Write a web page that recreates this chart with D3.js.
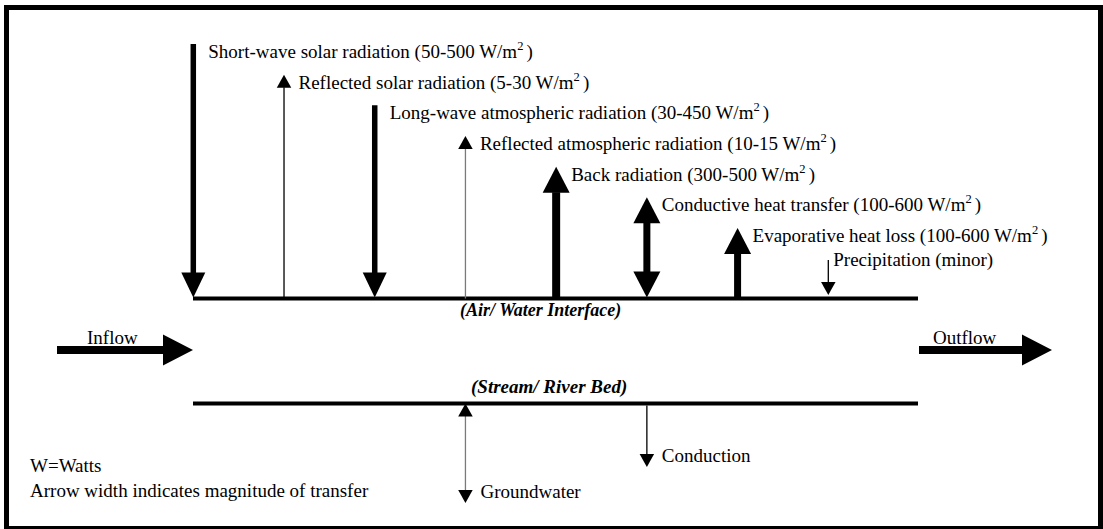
<!DOCTYPE html>
<html>
<head>
<meta charset="utf-8">
<script src="https://cdn.jsdelivr.net/npm/d3@7"></script>
<style>
  body { margin: 0; background: #fff; }
  text { font-family: "Liberation Serif", "Times New Roman", serif; font-size: 19px; fill: #000; }
  .bi { font-weight: bold; font-style: italic; }
</style>
</head>
<body>
<script>
// Heat fluxes across the air/water interface (W/m2)
const fluxes = ['Short-wave solar radiation', 'Reflected solar radiation', 'Long-wave atmospheric radiation',
  'Reflected atmospheric radiation', 'Back radiation', 'Conductive heat transfer', 'Evaporative heat loss', 'Precipitation']
const fluxRanges = ['50-500', '5-30', '30-450', '10-15', '300-500', '100-600', '100-600', null]
const fluxDirections = ['down', 'up', 'down', 'up', 'up', 'both', 'up', 'down']
const fluxMagnitudes = ['medium', 'small', 'medium', 'small', 'large', 'high', 'high', 'small']
const fluxNotes = [null, null, null, null, null, null, null, 'minor']

// Fluxes across the stream bed
const bedFluxes = ['Groundwater', 'Conduction']
const bedDirections = ['both', 'down']
const bedColumns = [3, 5]

const notes = ['W=Watts', 'Arrow width indicates magnitude of transfer']

const W = 1103, H = 529
const svg = d3.select('body').append('svg')
  .attr('width', W).attr('height', H)

// frame
svg.append('rect')
  .attr('x', 6.5).attr('y', 7.5)
  .attr('width', 1094).attr('height', 521)
  .attr('fill', 'none').attr('stroke', '#000').attr('stroke-width', 5)

const surfaceY = 298.5, bedY = 403.5
const x = d3.scalePoint().domain(d3.range(8)).range([193.3, 828.3])
const row = d3.scalePoint().domain(d3.range(8)).range([58, 272.7])

// shaft width / head size by magnitude
const shaftW = d3.scaleOrdinal().domain(['small', 'medium', 'high', 'large']).range([1.3, 5.5, 7, 8])
const headW = d3.scaleOrdinal().domain(['small', 'medium', 'high', 'large']).range([14.5, 24, 27, 27])
const headL = d3.scaleOrdinal().domain(['small', 'medium', 'high', 'large']).range([13, 25, 26, 26])
const shaftColor = d3.scaleOrdinal().domain(fluxes.concat(bedFluxes)).range(fluxes.concat(bedFluxes)
  .map(d => (d === 'Reflected atmospheric radiation' || d === 'Groundwater') ? '#7a7a7a' : '#000'))

const line = d3.line()

function head(g, cx, tipY, dir, w, l) { // dir: +1 points down, -1 points up
  g.append('path')
    .attr('d', line([[cx - w / 2, tipY - dir * l], [cx, tipY], [cx + w / 2, tipY - dir * l]]) + 'Z')
    .attr('fill', '#000')
}

function arrow(g, cx, y0, y1, direction, mag, color) { // y0 top, y1 bottom
  const l = headL(mag), w = headW(mag)
  let s0 = y0, s1 = y1
  if (direction === 'up' || direction === 'both') { head(g, cx, y0, -1, w, l); s0 = y0 + l - 0.5 }
  if (direction === 'down' || direction === 'both') { head(g, cx, y1, 1, w, l); s1 = y1 - l + 0.5 }
  g.insert('line', ':first-child')
    .attr('x1', cx).attr('x2', cx).attr('y1', s0).attr('y2', s1)
    .attr('stroke', color).attr('stroke-width', shaftW(mag))
}

// interfaces
const surfaces = [[surfaceY, '(Air/ Water Interface)', 460, 316, 18], [bedY, '(Stream/ River Bed)', 471, 393, 19]]
surfaces.forEach(([y, label, lx, ly, fs]) => {
  svg.append('line')
    .attr('x1', 193).attr('x2', 918).attr('y1', y).attr('y2', y)
    .attr('stroke', '#000').attr('stroke-width', 4)
  svg.append('text').attr('class', 'bi')
    .attr('x', lx).attr('y', ly)
    .style('font-size', fs + 'px')
    .text(label)
})

// surface fluxes
fluxes.forEach((name, i) => {
  const g = svg.append('g')
  const cx = x(i)
  const base = i === 7 ? row(i) - 6.7 : row(i)
  const mag = fluxMagnitudes[i]
  const top = i === 7 ? base - 6 : base - 14
  const bottom = fluxDirections[i] === 'up' ? surfaceY : 297.5 - (i === 7 ? 2.5 : 0)
  arrow(g, cx, top, bottom, fluxDirections[i], mag, shaftColor(name))

  const dx = i === 7 ? 5 : (mag === 'small' ? 14.5 : 15)
  const t = g.append('text').attr('x', cx + dx).attr('y', base)
  if (fluxRanges[i]) {
    t.append('tspan').text(`${name} (${fluxRanges[i]} W/m`)
    t.append('tspan').attr('dy', -8).style('font-size', '12.5px').text('2 ')
    t.append('tspan').attr('dy', 8).text(')')
  } else {
    t.text(`${name} (${fluxNotes[i]})`)
  }
})

// bed fluxes
const bedTips = { Groundwater: 503, Conduction: 467 }
bedFluxes.forEach((name, i) => {
  const g = svg.append('g')
  const cx = x(bedColumns[i])
  const top = bedDirections[i] === 'both' ? bedY : bedY + 2
  arrow(g, cx, top, bedTips[name], bedDirections[i], 'small', shaftColor(name))
  g.append('text').attr('x', cx + 15).attr('y', bedTips[name] - 5.5).text(name)
})

// inflow / outflow
const flows = [['Inflow', 57, 193, 87], ['Outflow', 919, 1052, 933]]
flows.forEach(([label, x0, x1, lx]) => {
  const y = 350
  svg.append('line')
    .attr('x1', x0).attr('x2', x1 - 29).attr('y1', y).attr('y2', y)
    .attr('stroke', '#000').attr('stroke-width', 8)
  svg.append('path')
    .attr('d', line([[x1 - 30, y - 15.5], [x1, y], [x1 - 30, y + 15.5]]) + 'Z')
    .attr('fill', '#000')
  svg.append('text').attr('x', lx).attr('y', 344).text(label)
})

// notes
svg.selectAll('text.note').data(notes).enter().append('text')
  .attr('class', 'note')
  .attr('x', 30).attr('y', (d, i) => 472 + i * 25)
  .text(d => d)
</script>
</body>
</html>
